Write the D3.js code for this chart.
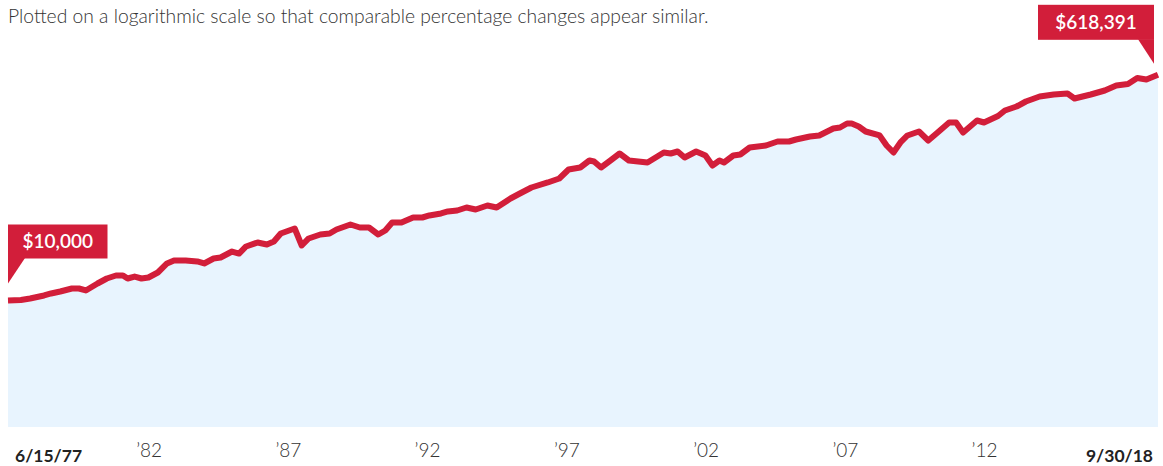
<!DOCTYPE html>
<html>
<head>
<meta charset="utf-8">
<script src="https://cdnjs.cloudflare.com/ajax/libs/d3/7.8.5/d3.min.js"></script>
<style>
    body { margin: 0; background: #fff; }
    svg { display: block; font-family: Lato, "Noto Sans", sans-serif; }
</style>
</head>
<body>
<svg id="chart"></svg>
<script>
// growth of $10,000 (log scale)
var dates = [
    "1977-06-15", "1977-12-01", "1978-04-01", "1978-10-01", "1979-01-01", "1979-05-01", "1979-10-01",
    "1980-01-01", "1980-04-01", "1980-09-01", "1981-01-01", "1981-05-01", "1981-08-01", "1981-10-01",
    "1982-01-01", "1982-04-01", "1982-07-01", "1982-11-01", "1983-03-01", "1983-06-01", "1983-11-01",
    "1984-04-01", "1984-07-01", "1984-11-01", "1985-02-01", "1985-07-01", "1985-10-01", "1986-01-01",
    "1986-06-01", "1986-10-01", "1987-01-01", "1987-04-01", "1987-10-01", "1988-01-01", "1988-04-01",
    "1988-09-01", "1989-01-01", "1989-04-01", "1989-10-01", "1990-02-01", "1990-06-01", "1990-10-01",
    "1991-01-01", "1991-04-01", "1991-08-01", "1992-01-01", "1992-05-01", "1992-08-01", "1993-01-01",
    "1993-04-01", "1993-08-01", "1993-12-01", "1994-04-01", "1994-09-01", "1995-01-01", "1995-07-01",
    "1995-11-01", "1996-04-01", "1996-11-01", "1997-04-01", "1997-08-01", "1998-01-01", "1998-05-01",
    "1998-07-01", "1998-10-01", "1999-02-01", "1999-06-01", "1999-10-01", "2000-06-01", "2001-01-01",
    "2001-04-01", "2001-07-01", "2001-10-01", "2002-03-01", "2002-07-01", "2002-10-01", "2003-01-01",
    "2003-03-01", "2003-07-01", "2003-10-01", "2004-02-01", "2004-09-01", "2005-02-01", "2005-07-01",
    "2005-10-01", "2006-04-01", "2006-08-01", "2007-02-01", "2007-05-01", "2007-08-01", "2007-10-01",
    "2008-01-01", "2008-04-01", "2008-10-01", "2009-01-01", "2009-04-01", "2009-07-01", "2009-10-01",
    "2010-03-01", "2010-07-01", "2010-11-01", "2011-04-01", "2011-07-01", "2011-10-01", "2012-04-01",
    "2012-07-01", "2013-01-01", "2013-04-01", "2013-09-01", "2014-01-01", "2014-07-01", "2015-01-01",
    "2015-07-01", "2015-10-01", "2016-05-01", "2016-11-01", "2017-04-01", "2017-09-01", "2018-01-01",
    "2018-05-01", "2018-09-30"
];
var values = [
    10000, 10090, 10370, 10960, 11370, 11790, 12450,
    12450, 12010, 13640, 14950, 15790, 15790, 14950,
    15500, 14950, 15220, 16680, 19670, 20770, 20770,
    20400, 19670, 21540, 21940, 24480, 23600, 26830,
    28860, 27830, 29390, 34020, 37280, 27320, 31060,
    33400, 34020, 36600, 40100, 37970, 37970, 33400,
    35940, 41590, 41590, 45570, 45570, 47280, 49040,
    50870, 51810, 54720, 52760, 56760, 54720, 64500,
    70670, 78860, 86420, 92960, 109570, 113640, 129160,
    126820, 113640, 129160, 146780, 129160, 124540, 149490,
    146780, 152250, 136450, 152250, 141530, 117880, 129160,
    124540, 141530, 144140, 163840, 169940, 182780, 182780,
    189590, 200300, 203990, 231780, 236060, 253970, 253970,
    240430, 219440, 203990, 169940, 149490, 179470, 203990,
    219440, 186140, 215440, 258640, 258640, 215440, 268270,
    258640, 291300, 322030, 346510, 379660, 415910, 431430,
    439420, 401050, 431430, 464160, 508660, 521950, 583300,
    567540, 618391
];
var startLabel = "6/15/77";
var endLabel = "9/30/18";
var tickYears = [1982, 1987, 1992, 1997, 2002, 2007, 2012];
var startValueLabel = "$10,000";
var endValueLabel = "$618,391";
var subtitle = "Plotted on a logarithmic scale so that comparable percentage changes appear similar.";

var width = 1163,
    height = 466;

var red = "#d21e3a",
    fillBlue = "#e8f4fe";

var parse = d3.timeParse("%Y-%m-%d");
var data = dates.map(function (d, i) {
    return { date: parse(d), value: values[i] };
});

var svg = d3.select("#chart")
    .attr("width", width)
    .attr("height", height);

var x = d3.scaleTime()
    .domain(d3.extent(data, function (d) { return d.date; }))
    .range([8, 1158]);

var y = d3.scaleLog()
    .domain([1000, 1000000])
    .range([426.5, 48.5]);

// subtitle, sized to the reference width
var sub = svg.append("text")
    .attr("x", 8)
    .attr("y", 23)
    .attr("fill", "#333")
    .style("font-weight", 300)
    .style("font-size", "18px")
    .text(subtitle);
var subW = sub.node().getComputedTextLength();
sub.style("font-size", (18 * 701 / subW).toFixed(2) + "px");

// area under the line
var area = d3.area()
    .x(function (d) { return x(d.date); })
    .y0(y(1000) + 0.5)
    .y1(function (d) { return y(d.value); });

svg.append("path")
    .datum(data)
    .attr("fill", fillBlue)
    .attr("d", area);

var line = d3.line()
    .x(function (d) { return x(d.date); })
    .y(function (d) { return y(d.value); });

svg.append("path")
    .datum(data)
    .attr("fill", "none")
    .attr("stroke", red)
    .attr("stroke-width", 6)
    .attr("stroke-linejoin", "round")
    .attr("stroke-linecap", "butt")
    .attr("d", line);

// x axis labels
var axis = svg.append("g")
    .attr("transform", "translate(0," + 443 + ")")
    .call(d3.axisBottom(x)
        .tickValues(tickYears.map(function (yr) { return new Date(yr, 0, 1); }))
        .tickSize(0)
        .tickPadding(0)
        .tickFormat(function (d) { return "\u2019" + d3.timeFormat("%y")(d); }));
axis.select(".domain").remove();
axis.selectAll("text")
    .attr("text-anchor", "start")
    .attr("dx", 1)
    .attr("dy", "0.71em")
    .attr("fill", "#333")
    .style("font-family", "Lato, 'Noto Sans', sans-serif")
    .style("font-size", "19px")
    .style("font-weight", 300);

var first = data[0], last = data[data.length - 1];

svg.append("text")
    .attr("x", x(first.date) + 7)
    .attr("y", 461.5)
    .attr("fill", "#222")
    .style("font-size", "17.5px")
    .style("font-weight", 700)
    .text(startLabel);

svg.append("text")
    .attr("x", x(last.date) - 5)
    .attr("y", 461.5)
    .attr("text-anchor", "end")
    .attr("fill", "#222")
    .style("font-size", "17.5px")
    .style("font-weight", 700)
    .text(endLabel);

// callout flags
function flag(box, tip, label) {
    var g = svg.append("g");
    g.append("rect")
        .attr("x", box[0])
        .attr("y", box[1])
        .attr("width", box[2])
        .attr("height", box[3])
        .attr("fill", red);
    g.append("path")
        .attr("d", "M" + tip[0] + "," + (box[1] + box[3] - 0.5) +
            "L" + tip[1] + "," + (box[1] + box[3] - 0.5) +
            "L" + tip[2] + "," + tip[3] + "Z")
        .attr("fill", red);
    g.append("text")
        .attr("x", box[0] + box[2] / 2)
        .attr("y", box[1] + box[3] / 2 + 6.5)
        .attr("text-anchor", "middle")
        .attr("fill", "#fff")
        .style("font-size", "19px")
        .style("font-weight", 600)
        .text(label);
}

var fx = x(first.date), fy = y(first.value);
flag([fx, fy - 76, 99.5, 34], [fx, fx + 17, fx, fy - 17], startValueLabel);

var lx = x(last.date), ly = y(last.value);
flag([lx - 120, ly - 70, 116, 35], [lx - 20, lx - 4, lx - 4, ly - 11], endValueLabel);
</script>
</body>
</html>
